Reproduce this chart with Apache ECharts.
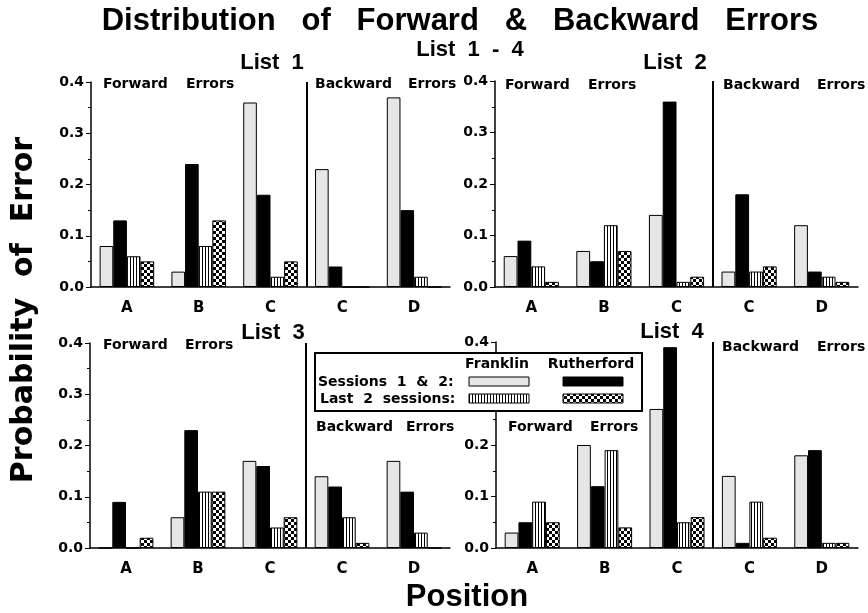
<!DOCTYPE html>
<html>
<head>
<meta charset="utf-8">
<script src="https://cdn.jsdelivr.net/npm/echarts@6/dist/echarts.min.js"></script>
<style>
html, body { margin: 0; padding: 0; background: #fff; }
#main { width: 868px; height: 613px; }
</style>
</head>
<body>
<div id="main"></div>
<script>
// positions: forward errors A B C | backward errors C D
var positions = ['A', 'B', 'C', 'C', 'D'];
// forward / backward divider sits on the band boundary before the 4th position
var dividerAt = 3;

// List 1
var list1FranklinFirst = [0.08, 0.03, 0.36, 0.23, 0.37];
var list1RutherfordFirst = [0.13, 0.24, 0.18, 0.04, 0.15];
var list1FranklinLast = [0.06, 0.08, 0.02, 0, 0.02];
var list1RutherfordLast = [0.05, 0.13, 0.05, 0, 0];
// List 2
var list2FranklinFirst = [0.06, 0.07, 0.14, 0.03, 0.12];
var list2RutherfordFirst = [0.09, 0.05, 0.36, 0.18, 0.03];
var list2FranklinLast = [0.04, 0.12, 0.01, 0.03, 0.02];
var list2RutherfordLast = [0.01, 0.07, 0.02, 0.04, 0.01];
// List 3
var list3FranklinFirst = [0, 0.06, 0.17, 0.14, 0.17];
var list3RutherfordFirst = [0.09, 0.23, 0.16, 0.12, 0.11];
var list3FranklinLast = [0, 0.11, 0.04, 0.06, 0.03];
var list3RutherfordLast = [0.02, 0.11, 0.06, 0.01, 0];
// List 4
var list4FranklinFirst = [0.03, 0.20, 0.27, 0.14, 0.18];
var list4RutherfordFirst = [0.05, 0.12, 0.39, 0.01, 0.19];
var list4FranklinLast = [0.09, 0.19, 0.05, 0.09, 0.01];
var list4RutherfordLast = [0.05, 0.04, 0.06, 0.02, 0.01];

var panels = [
  [list1FranklinFirst, list1RutherfordFirst, list1FranklinLast, list1RutherfordLast],
  [list2FranklinFirst, list2RutherfordFirst, list2FranklinLast, list2RutherfordLast],
  [list3FranklinFirst, list3RutherfordFirst, list3FranklinLast, list3RutherfordLast],
  [list4FranklinFirst, list4RutherfordFirst, list4FranklinLast, list4RutherfordLast]
];

function stripes() {
  var c = document.createElement('canvas');
  c.width = 3; c.height = 4;
  var g = c.getContext('2d');
  g.fillStyle = '#fff'; g.fillRect(0, 0, 3, 4);
  g.fillStyle = '#000'; g.fillRect(1, 0, 1, 4);
  return { image: c, repeat: 'repeat' };
}
function checker() {
  var c = document.createElement('canvas');
  c.width = 6; c.height = 6;
  var g = c.getContext('2d');
  g.fillStyle = '#fff'; g.fillRect(0, 0, 6, 6);
  g.fillStyle = '#000'; g.fillRect(0, 0, 3, 3); g.fillRect(3, 3, 3, 3);
  return { image: c, repeat: 'repeat' };
}

var fills = ['#e6e6e6', '#000', stripes(), checker()];
var names = ['Franklin sessions 1 & 2', 'Rutherford sessions 1 & 2', 'Franklin last 2 sessions', 'Rutherford last 2 sessions'];

var grids = [
  { left: 91, top: 82, width: 359, height: 205 },
  { left: 495, top: 81, width: 363, height: 206 },
  { left: 90, top: 343, width: 360, height: 205 },
  { left: 496, top: 342, width: 362, height: 206 }
];

var small = 'bold 14px "DejaVu Sans"';
var listFont = 'bold 22px "Liberation Sans"';

var xAxes = [], yAxes = [], series = [];
grids.forEach(function (g, i) {
  xAxes.push({
    type: 'category', gridIndex: i, data: positions,
    axisLine: { lineStyle: { color: '#000', width: 1.5 } },
    axisTick: { alignWithLabel: true, length: 5, lineStyle: { color: '#000' } },
    axisLabel: { color: '#000', fontFamily: 'DejaVu Sans', fontWeight: 'bold', fontSize: 15, margin: 14 },
    splitLine: { show: false }
  });
  yAxes.push({
    type: 'value', gridIndex: i, min: 0, max: 0.4, interval: 0.1,
    axisLine: { show: true, lineStyle: { color: '#000', width: 1.5 } },
    axisTick: { show: true, length: 5, lineStyle: { color: '#000' } },
    minorTick: { show: true, splitNumber: 2, length: 3, lineStyle: { color: '#000' } },
    splitLine: { show: false },
    axisLabel: { color: '#000', fontFamily: 'DejaVu Sans', fontWeight: 'bold', fontSize: 14, margin: 7,
      formatter: function (v) { return v.toFixed(1); } }
  });
  panels[i].forEach(function (vals, k) {
    series.push({
      type: 'bar', name: names[k], xAxisIndex: i, yAxisIndex: i, data: vals,
      barGap: '0%', barCategoryGap: '24%',
      itemStyle: { color: fills[k], borderColor: '#000', borderWidth: 1 },
      animation: false
    });
  });
});

// hidden band-index axes, used only to place the forward / backward divider
grids.forEach(function (g, i) {
  xAxes.push({ type: 'value', gridIndex: i, min: 0, max: positions.length, show: false });
  series.push({
    type: 'scatter', xAxisIndex: grids.length + i, yAxisIndex: i, data: [], silent: true,
    markLine: {
      symbol: ['none', 'none'], silent: true, animation: false, label: { show: false },
      lineStyle: { color: '#000', width: 2, type: 'solid' },
      data: [{ xAxis: dividerAt }]
    }
  });
});

function txt(text, x, y, font, align) {
  return { type: 'text', x: x, y: y, z: 110,
    style: { text: text, font: font, fill: '#000', textAlign: align || 'left', align: align || 'left',
      textVerticalAlign: 'middle', verticalAlign: 'middle' } };
}

var graphics = [
  txt('Distribution   of   Forward   &   Backward   Errors', 460, 21, 'bold 31px "Liberation Sans"', 'center'),
  txt('List  1  -  4', 470, 50, listFont, 'center'),
  txt('List  1', 272, 63, listFont, 'center'),
  txt('List  2', 675, 63, listFont, 'center'),
  txt('List  3', 273, 333, listFont, 'center'),
  txt('List  4', 672, 332, listFont, 'center'),
  // panel annotations
  txt('Forward', 103, 84, small), txt('Errors', 186, 84, small),
  txt('Backward', 315, 84, small), txt('Errors', 408, 84, small),
  txt('Forward', 505, 85, small), txt('Errors', 588, 85, small),
  txt('Backward', 723, 85, small), txt('Errors', 817, 85, small),
  txt('Forward', 103, 345, small), txt('Errors', 185, 345, small),
  txt('Backward', 316, 427, small), txt('Errors', 406, 427, small),
  txt('Forward', 508, 427, small), txt('Errors', 590, 427, small),
  txt('Backward', 722, 347, small), txt('Errors', 817, 347, small),
  // axis names
  txt('Position', 467, 597, 'bold 31px "Liberation Sans"', 'center'),
  { type: 'text', x: 24, y: 310, rotation: Math.PI / 2, z: 110,
    style: { text: 'Probability  of  Error', font: 'bold 30px "DejaVu Sans"', fill: '#000',
      textAlign: 'center', align: 'center', textVerticalAlign: 'middle', verticalAlign: 'middle' } },
  // legend box
  { type: 'rect', z: 100, shape: { x: 315, y: 353, width: 327, height: 58 },
    style: { fill: '#fff', stroke: '#000', lineWidth: 2 } },
  txt('Franklin', 497, 364, small, 'center'),
  txt('Rutherford', 591, 364, small, 'center'),
  txt('Sessions  1  &  2:', 318, 382, small),
  txt('Last  2  sessions:', 320, 399, small),
  { type: 'rect', z: 110, shape: { x: 469, y: 377, width: 60, height: 9 }, style: { fill: fills[0], stroke: '#000', lineWidth: 1 } },
  { type: 'rect', z: 110, shape: { x: 563, y: 377, width: 60, height: 9 }, style: { fill: fills[1], stroke: '#000', lineWidth: 1 } },
  { type: 'rect', z: 110, shape: { x: 469, y: 394, width: 60, height: 9 }, style: { fill: fills[2], stroke: '#000', lineWidth: 1 } },
  { type: 'rect', z: 110, shape: { x: 563, y: 394, width: 60, height: 9 }, style: { fill: fills[3], stroke: '#000', lineWidth: 1 } }
];

var myChart = echarts.init(document.getElementById('main'));
myChart.setOption({
  backgroundColor: '#fff',
  animation: false,
  grid: grids,
  xAxis: xAxes,
  yAxis: yAxes,
  series: series,
  graphic: graphics
});
</script>
</body>
</html>
